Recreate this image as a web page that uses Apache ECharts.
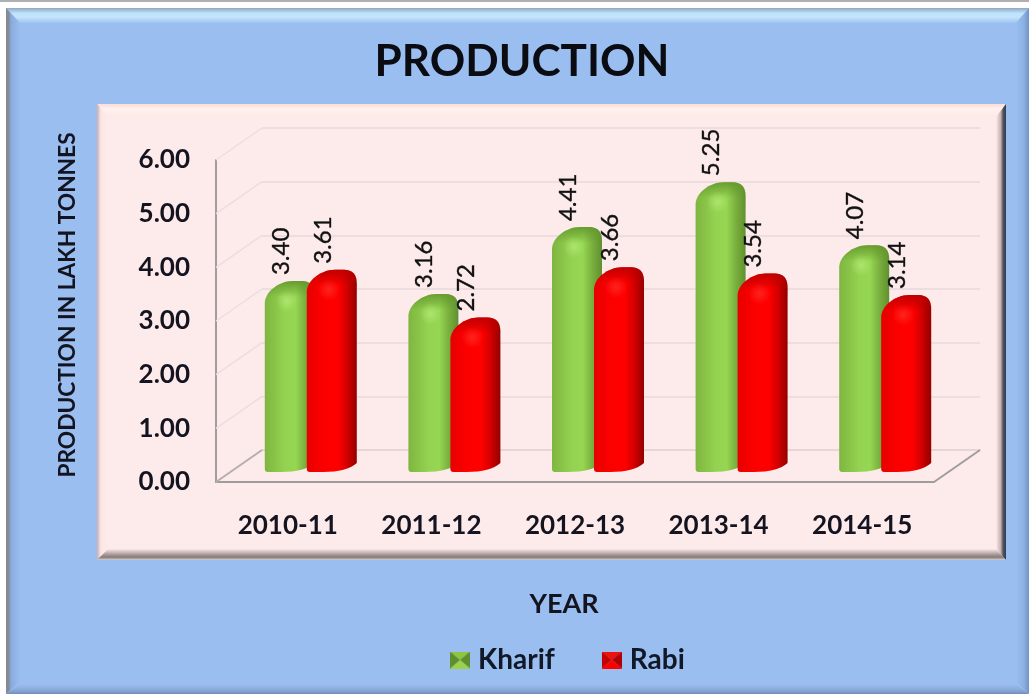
<!DOCTYPE html>
<html><head><meta charset="utf-8">
<style>html,body{margin:0;padding:0;background:#fff}#c{width:1029px;height:694px}</style>
<script src="https://cdn.jsdelivr.net/npm/echarts@6/dist/echarts.min.js"></script>
</head><body><div id="c"></div>
<script>
const categories = ['2010-11','2011-12','2012-13','2013-14','2014-15'];
const kharif = [3.40,3.16,4.41,5.25,4.07];
const rabi = [3.61,2.72,3.66,3.54,3.14];
const yTicks = [0,1,2,3,4,5,6];

const FONT = 'Lato';
const G = echarts.graphic;
const chart = echarts.init(document.getElementById('c'));

function grad(stops,x2,y2){return new G.LinearGradient(0,0,x2===undefined?1:x2,y2||0,stops.map(s=>({offset:s[0],color:s[1]})));}
function rect(x,y,w,h,fill){return {type:'rect',silent:true,z:-5,shape:{x,y,width:w,height:h},style:{fill}};}
function poly(points,fill){return {type:'polygon',silent:true,z:-4,shape:{points},style:{fill}};}
function pyramid(top,side,bottom,side2){
  const c=document.createElement('canvas');c.width=20;c.height=17;const x=c.getContext('2d');
  const tri=(a,b,d,col)=>{x.fillStyle=col;x.beginPath();x.moveTo(...a);x.lineTo(...b);x.lineTo(...d);x.closePath();x.fill();};
  const m=[10,8.5];
  tri([0,0],[20,0],m,top);tri([20,0],[20,17],m,side2);tri([20,17],[0,17],m,bottom);tri([0,17],[0,0],m,side);
  return 'image://'+c.toDataURL();
}

const graphics = [
  rect(0,0,1029,2,'#b0b0b0'),
  rect(6,8,1023,686,'#9bbef0'),
  poly([[6,8],[1029,8],[1016,23],[20,23]],grad([[0,'#8fa8c4'],[.35,'#bfe2fb'],[.6,'#c4e5fb'],[1,'#9fc4f1']],0,1)),
  poly([[6,8],[20,23],[20,682],[6,694]],grad([[0,'#868b93'],[.2,'#868b93'],[.35,'#86abdc'],[1,'#9bbef0']])),
  poly([[1029,8],[1029,694],[1016,682],[1016,23]],grad([[0,'#9bbef0'],[.6,'#8bb0e2'],[1,'#6f93c4']])),
  poly([[6,694],[1029,694],[1016,684],[20,684]],grad([[0,'#9bbef0'],[.6,'#8aaad9'],[1,'#728fbb']],0,1)),
  rect(100,106,903,453,'#fdeaea'),
  poly([[97,104],[1006,104],[996,117],[108,117]],grad([[0,'#fcdcd8'],[.4,'#fff2ee'],[1,'#fde8e6']],0,1)),
  poly([[97,104],[108,117],[108,549],[97,560]],grad([[0,'#c9aeae'],[.35,'#fbe6e4'],[1,'#fdeaea']])),
  poly([[1006,104],[1006,560],[996,549],[996,117]],grad([[0,'#fdeaea'],[.45,'#c9b3b3'],[.72,'#54525c'],[1,'#2f3c55']])),
  poly([[97,560],[1006,560],[996,549],[108,549]],grad([[0,'#fbe8e8'],[.5,'#a99a9a'],[.75,'#867a7a'],[1,'#d8d0d0']],0,1))
];

function barRender(palette, offset){
  return function(params, api){
    const i = api.value(0), v = api.value(1);
    const base = api.coord([i,0]), top = api.coord([i,v]);
    const L = base[0]+offset, W = 50, R = L+W, B = base[1], T = top[1]-9;
    const d = `M${L} ${T+22} C${L} ${T+11} ${L+14} ${T} ${L+28} ${T} L${R-13} ${T} Q${R} ${T} ${R} ${T+14} L${R} ${B-9} Q${R-10} ${B} ${L+16} ${B} L${L+3} ${B} Q${L} ${B} ${L} ${B-3} Z`;
    const rim = new G.LinearGradient(0,T,0,T+16,[{offset:0,color:palette.rim},{offset:1,color:palette.rim0}],true);
    return {type:'group',children:[
      {type:'path',shape:{pathData:d},style:{fill:grad(palette.body)}},
      {type:'path',shape:{pathData:d},style:{fill:rim}},
      {type:'ellipse',shape:{cx:L+22,cy:T+20,rx:17,ry:11},style:{fill:new G.RadialGradient(.5,.5,.5,[{offset:0,color:palette.hi},{offset:1,color:palette.hi0}])}},
      {type:'text',x:L+16,y:T-6,rotation:Math.PI/2,
       style:{text:v.toFixed(2),fill:'#111',stroke:'#111',lineWidth:.35,font:'24px '+FONT,align:'left',verticalAlign:'middle'}}
    ]};
  };
}

const greenPal = {body:[[0,'#7fb540'],[.4,'#93d350'],[.62,'#95d652'],[.82,'#78ad3c'],[1,'#5f9030']],rim:'rgba(100,150,45,.9)',rim0:'rgba(100,150,45,0)',hi:'rgba(190,240,130,.6)',hi0:'rgba(190,240,130,0)'};
const redPal = {body:[[0,'#e60000'],[.3,'#fb0000'],[.62,'#ff0000'],[.8,'#d40000'],[1,'#940000']],rim:'rgba(185,0,0,.9)',rim0:'rgba(185,0,0,0)',hi:'rgba(255,70,60,.5)',hi0:'rgba(255,70,60,0)'};

const axisBase = {type:'category',data:categories};
const valBase = {type:'value',min:0,max:6,interval:1};

const option = {
  animation:false,
  title:{text:'PRODUCTION',left:517,top:35,textAlign:'center',textStyle:{fontFamily:FONT,fontWeight:'bold',fontSize:44,color:'#0b0b12'}},
  legend:{left:445,top:641,itemWidth:20,itemHeight:17,itemGap:47,
    textStyle:{fontFamily:FONT,fontWeight:'bold',fontSize:28,color:'#111827',padding:[0,0,0,3]},
    data:[{name:'Kharif',icon:pyramid('#8ec63f','#5f8f2c','#9ad24c','#5f8f2c')},
          {name:'Rabi',icon:pyramid('#f01010','#c40000','#ff0000','#b00000')}]},
  graphic:{elements:graphics},
  grid:[
    {left:216,top:160,width:718,height:322},
    {left:262,top:128,width:718,height:322},
    {left:239,top:151,width:718,height:321}
  ],
  xAxis:[
    Object.assign({},axisBase,{gridIndex:0,name:'YEAR',nameLocation:'middle',nameGap:109,
      nameTextStyle:{fontFamily:FONT,fontWeight:'bold',fontSize:27,color:'#141420',padding:[0,22,0,0]},
      axisLine:{lineStyle:{color:'#a09c9e',width:2}},axisTick:{show:false},
      axisLabel:{fontFamily:FONT,fontWeight:'bold',fontSize:26,color:'#141420',margin:31}}),
    Object.assign({},axisBase,{gridIndex:1,axisLine:{lineStyle:{color:'#e6d6d6',width:2}},axisTick:{show:false},axisLabel:{show:false}}),
    Object.assign({},axisBase,{gridIndex:2,axisLine:{show:false},axisTick:{show:false},axisLabel:{show:false}})
  ],
  yAxis:[
    Object.assign({},valBase,{gridIndex:0,name:'PRODUCTION IN LAKH TONNES',nameLocation:'middle',nameGap:137,
      nameTextStyle:{fontFamily:FONT,fontWeight:'bold',fontSize:22.7,color:'#141420',padding:[0,0,0,32]},
      axisLine:{show:true,lineStyle:{color:'#a09c9e',width:2}},axisTick:{show:false},splitLine:{show:false},
      axisLabel:{fontFamily:FONT,fontWeight:'bold',fontSize:26,color:'#141420',margin:26,formatter:v=>v.toFixed(2)}}),
    Object.assign({},valBase,{gridIndex:1,axisLine:{show:false},axisTick:{show:false},axisLabel:{show:false},
      splitLine:{show:true,lineStyle:{color:'#eeddde',width:2}}}),
    Object.assign({},valBase,{gridIndex:2,axisLine:{show:false},axisTick:{show:false},axisLabel:{show:false},splitLine:{show:false}})
  ],
  series:[
    {type:'custom',name:'walls',xAxisIndex:0,yAxisIndex:0,silent:true,z:1,clip:false,
     data:yTicks.map(t=>[0,t]),encode:{x:0,y:1},
     renderItem(params,api){
       const t=api.value(1), p=api.coord([0,t]), x=params.coordSys.x, w=params.coordSys.width;
       const kids=[{type:'line',shape:{x1:x,y1:p[1],x2:x+46,y2:p[1]-32},style:{stroke:t===0?'#b5adaf':'#eeddde',lineWidth:t===0?2:1.5}}];
       if(t===0) kids.push({type:'line',shape:{x1:x+w,y1:p[1],x2:x+w+46,y2:p[1]-32},style:{stroke:'#a09c9e',lineWidth:2}});
       return {type:'group',children:kids};
     }},
    {type:'custom',name:'Kharif',xAxisIndex:2,yAxisIndex:2,z:3,clip:false,
     itemStyle:{color:'#8cc84b'},
     data:kharif.map((v,i)=>[i,v]),encode:{x:0,y:1},renderItem:barRender(greenPal,-46)},
    {type:'custom',name:'Rabi',xAxisIndex:2,yAxisIndex:2,z:4,clip:false,
     itemStyle:{color:'#f00'},
     data:rabi.map((v,i)=>[i,v]),encode:{x:0,y:1},renderItem:barRender(redPal,-4)}
  ]
};
chart.setOption(option);
</script></body></html>
